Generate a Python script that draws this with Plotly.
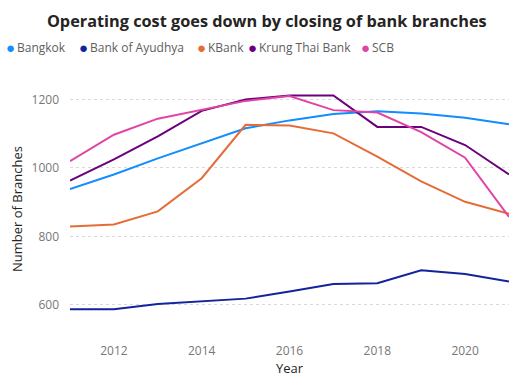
import plotly.graph_objects as go

years = list(range(2011, 2022))
bangkok = [938, 981, 1028, 1072, 1116, 1139, 1158, 1166, 1159, 1147, 1128]
ayudhya = [587, 587, 602, 611, 618, 639, 661, 663, 701, 690, 668]
kbank = [829, 835, 873, 970, 1126, 1124, 1101, 1033, 961, 901, 866]
krungthai = [963, 1025, 1092, 1167, 1200, 1212, 1212, 1120, 1120, 1067, 981]
scb = [1020, 1097, 1144, 1170, 1196, 1210, 1169, 1162, 1105, 1030, 857]

names = ["Bangkok", "Bank of Ayudhya", "KBank", "Krung Thai Bank", "SCB"]
series = [bangkok, ayudhya, kbank, krungthai, scb]
colors = ["#118DFF", "#12239E", "#E66C37", "#6B007B", "#E044A7"]

FONT = "Open Sans"
L, R, T, B = 70, 6, 79, 37
PW = 515 - L - R
PH = 379 - T - B

def px2x(px):
    return (px - L) / PW

def py2y(py):
    return (379 - B - py) / PH

fig = go.Figure()
for n, s, c in zip(names, series, colors):
    fig.add_trace(go.Scatter(x=years, y=s, name=n, mode="lines",
                             line=dict(color=c, width=2), showlegend=False))

# legend built from annotations (marker dot + label)
dot_px = [10, 83, 201, 252, 365]
annotations = []
for n, c, dx in zip(names, colors, dot_px):
    annotations.append(dict(text="●", xref="paper", yref="paper",
                            x=px2x(dx), xanchor="center", y=py2y(47), yanchor="middle",
                            showarrow=False, font=dict(family=FONT, size=15, color=c)))
    annotations.append(dict(text=n, xref="paper", yref="paper",
                            x=px2x(dx + 5), xanchor="left", y=py2y(47), yanchor="middle",
                            showarrow=False, font=dict(family=FONT, size=12, color="#605E5C")))

fig.update_layout(
    width=515, height=379,
    margin=dict(l=L, r=R, t=T, b=B),
    paper_bgcolor="white", plot_bgcolor="white",
    font=dict(family=FONT, size=12, color="#605E5C"),
    title=dict(text="<b>Operating cost goes down by closing of bank branches</b>",
               x=0.518, xanchor="center", y=0.945, yanchor="middle",
               font=dict(family=FONT, size=16.3, color="#252423")),
    annotations=annotations,
    xaxis=dict(range=[2011, 2021], showgrid=False, zeroline=False, showline=False,
               tickvals=[2012, 2014, 2016, 2018, 2020], ticks="", ticklabelstandoff=3,
               tickfont=dict(color="#777777", size=12),
               title=dict(text="Year", font=dict(color="#252423", size=13), standoff=5)),
    yaxis=dict(range=[500, 1260], showgrid=True, gridcolor="#D9D9D9", griddash="dot",
               gridwidth=1, zeroline=False, showline=False,
               tickvals=[600, 800, 1000, 1200], ticks="", ticklabelstandoff=10,
               tickfont=dict(color="#777777", size=12),
               title=dict(text="Number of Branches", font=dict(color="#252423", size=13), standoff=5)),
)

fig.write_html("out.html")
